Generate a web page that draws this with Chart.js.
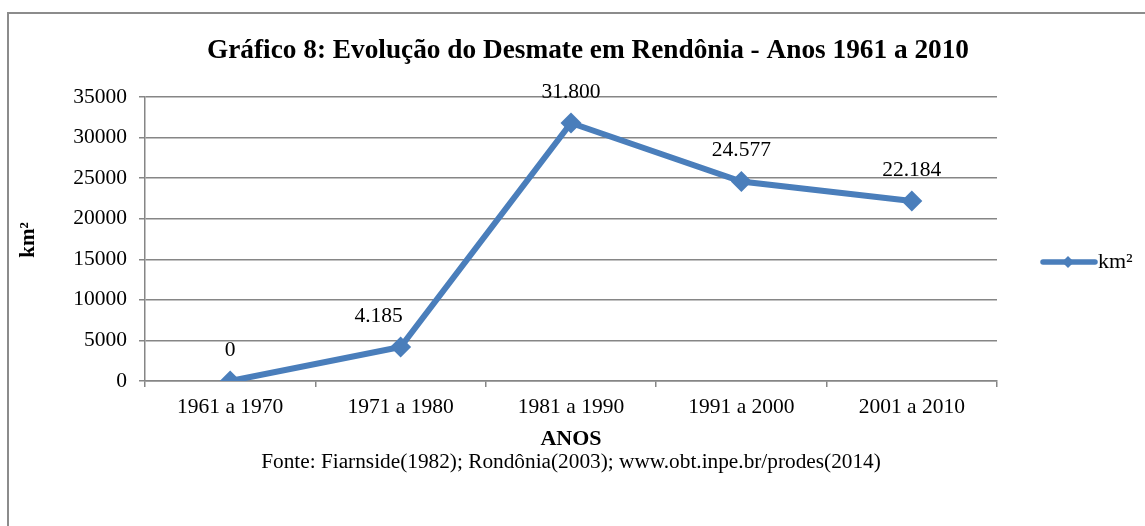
<!DOCTYPE html>
<html>
<head>
<meta charset="utf-8">
<script src="https://cdn.jsdelivr.net/npm/chart.js@4.4.1/dist/chart.umd.min.js"></script>
<style>
html,body{margin:0;padding:0;background:#fff;}
#wrap{position:relative;width:1145px;height:526px;}
</style>
</head>
<body>
<div id="wrap"><canvas id="c" width="1145" height="526"></canvas></div>
<script>
const categories = ["1961 a 1970", "1971 a 1980", "1981 a 1990", "1991 a 2000", "2001 a 2010"];
const desmateKm2 = [0, 4185, 31800, 24577, 22184];
const yTicks = [0, 5000, 10000, 15000, 20000, 25000, 30000, 35000];
const seriesName = "km²";
const chartTitle = "Gráfico 8: Evolução do Desmate em Rendônia - Anos 1961 a 2010";
const xTitle = "ANOS";
const yTitle = "km²";
const sourceText = "Fonte: Fiarnside(1982); Rondônia(2003); www.obt.inpe.br/prodes(2014)";

const SERIF = "'Liberation Serif', 'Times New Roman', serif";
const BLUE = "#4A7EBB";
const GRID = "#868686";
const FS = 21.5;

function fmtBR(v){
  const s = String(Math.round(v));
  return s.replace(/\B(?=(\d{3})+(?!\d))/g, ".");
}

const decor = {
  id: 'decor',
  beforeDraw(chart){
    const ctx = chart.ctx;
    ctx.save();
    ctx.strokeStyle = "#8c8c8c";
    ctx.lineWidth = 2;
    ctx.beginPath();
    ctx.moveTo(8, 526);
    ctx.lineTo(8, 13);
    ctx.lineTo(1145, 13);
    ctx.stroke();
    ctx.restore();
  },
  afterDraw(chart){
    const ctx = chart.ctx;
    const area = chart.chartArea;
    const cx = (area.left + area.right) / 2;
    ctx.save();
    ctx.fillStyle = "#000";
    ctx.textAlign = "center";
    ctx.textBaseline = "middle";
    ctx.font = "bold 27.3px " + SERIF;
    ctx.fillText(chartTitle, 588, 51);
    ctx.font = "bold 22px " + SERIF;
    ctx.fillText(xTitle, cx, 439);
    ctx.font = "21.3px " + SERIF;
    ctx.fillText(sourceText, cx, 462);
    // y title
    ctx.save();
    ctx.translate(29, 240);
    ctx.rotate(-Math.PI/2);
    ctx.font = "bold 21px " + SERIF;
    ctx.fillText(yTitle, 0, 0);
    ctx.restore();
    // legend
    const ly = 262;
    ctx.strokeStyle = BLUE;
    ctx.lineWidth = 5.5;
    ctx.lineCap = "round";
    ctx.beginPath();
    ctx.moveTo(1043, ly);
    ctx.lineTo(1095, ly);
    ctx.stroke();
    ctx.fillStyle = BLUE;
    ctx.beginPath();
    ctx.moveTo(1068, ly-6); ctx.lineTo(1074, ly); ctx.lineTo(1068, ly+6); ctx.lineTo(1062, ly);
    ctx.closePath(); ctx.fill();
    ctx.fillStyle = "#000";
    ctx.textAlign = "left";
    ctx.font = "22px " + SERIF;
    ctx.fillText(seriesName, 1098, ly);
    // data labels
    const meta = chart.getDatasetMeta(0);
    const nudgeX = [0, -22, 0, 0, 0];
    ctx.textAlign = "center";
    ctx.font = FS + "px " + SERIF;
    meta.data.forEach((pt, i) => {
      const v = chart.data.datasets[0].data[i];
      ctx.fillText(fmtBR(v), pt.x + nudgeX[i], pt.y - 31);
    });
    ctx.restore();
  }
};

new Chart(document.getElementById('c'), {
  type: 'line',
  data: {
    labels: categories,
    datasets: [{
      label: seriesName,
      data: desmateKm2,
      borderColor: BLUE,
      backgroundColor: BLUE,
      borderWidth: 6,
      pointStyle: 'rectRot',
      pointRadius: 10.5,
      pointHoverRadius: 10.5,
      pointBackgroundColor: BLUE,
      pointBorderWidth: 0,
      tension: 0,
      fill: false
    }]
  },
  options: {
    responsive: false,
    animation: false,
    events: [],
    layout: { padding: { top: 97, right: 148, bottom: 0, left: 0 } },
    plugins: {
      legend: { display: false },
      title: { display: false },
      tooltip: { enabled: false }
    },
    scales: {
      x: {
        type: 'category',
        offset: true,
        grid: {
          offset: true,
          drawOnChartArea: false,
          drawTicks: true,
          tickLength: 6,
          color: GRID,
          lineWidth: 1.5
        },
        border: { display: true, color: GRID, width: 1.5 },
        ticks: {
          color: "#000",
          font: { family: SERIF, size: FS },
          padding: 7,
          maxRotation: 0,
          autoSkip: false
        },
        afterFit(scale){ scale.height = 526 - 381; }
      },
      y: {
        min: 0,
        max: 35000,
        afterBuildTicks(scale){ scale.ticks = yTicks.map(v => ({ value: v })); },
        grid: {
          color: GRID,
          lineWidth: 1.5,
          drawTicks: true,
          tickLength: 6
        },
        border: { display: true, color: GRID, width: 1.5 },
        ticks: {
          color: "#000",
          font: { family: SERIF, size: FS },
          padding: 12,
          callback: v => String(v)
        },
        afterFit(scale){ scale.width = 145; }
      }
    }
  },
  plugins: [decor]
});
</script>
</body>
</html>
